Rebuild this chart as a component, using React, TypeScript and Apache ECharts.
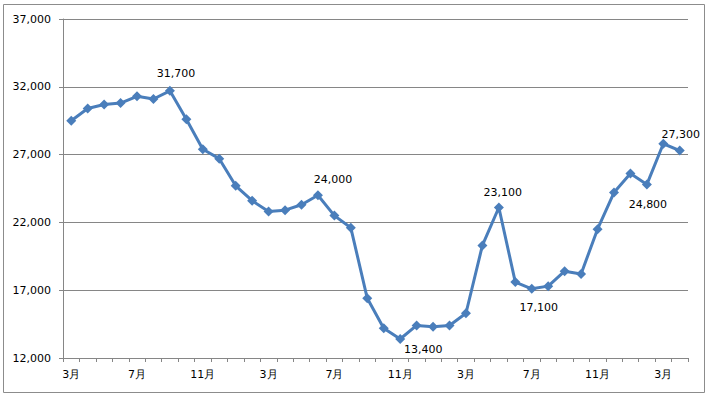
import React, { useEffect, useRef } from "react";
import * as echarts from "echarts";

const months = [
  "3月","4月","5月","6月","7月","8月","9月","10月","11月","12月","1月","2月",
  "3月","4月","5月","6月","7月","8月","9月","10月","11月","12月","1月","2月",
  "3月","4月","5月","6月","7月","8月","9月","10月","11月","12月","1月","2月",
  "3月","4月",
];
const values = [
  29500, 30400, 30700, 30800, 31300, 31100, 31700, 29600, 27400, 26700, 24700, 23600,
  22800, 22900, 23300, 24000, 22500, 21600, 16400, 14200, 13400, 14400, 14300, 14400,
  15300, 20300, 23100, 17600, 17100, 17300, 18400, 18200, 21500, 24200, 25600, 24800,
  27800, 27300,
];
// labelled points
const labelAbove = [6, 15, 26, 37];
const labelBelow = [20, 28, 35];

export default function App() {
  const ref = useRef<HTMLDivElement>(null);
  useEffect(() => {
    if (!ref.current) return;
    const chart = echarts.init(ref.current, undefined, { renderer: "svg" });
    const font = "'DejaVu Sans', Verdana, sans-serif";
    const offsets: Record<number, number[]> = {
      6: [6, 1], 15: [15, 3], 26: [4, 4], 37: [1, 2],
      20: [23, -6], 28: [7, 2], 35: [1, 4],
    };
    const data = values.map((v, i) => {
      if (labelAbove.includes(i)) {
        return { value: v, label: { show: true, position: "top", distance: 8, offset: offsets[i] } };
      }
      if (labelBelow.includes(i)) {
        return { value: v, label: { show: true, position: "bottom", distance: 6, offset: offsets[i] } };
      }
      return v;
    });
    chart.setOption({
      animation: false,
      backgroundColor: "#ffffff",
      graphic: [
        {
          type: "rect",
          shape: { x: 3.5, y: 4.5, width: 701, height: 388 },
          style: { fill: "none", stroke: "#8c8c8c", lineWidth: 1 },
          silent: true,
        },
      ],
      grid: { left: 63, right: 21, top: 19, bottom: 39 },
      xAxis: {
        type: "category",
        data: months,
        boundaryGap: true,
        axisLine: { lineStyle: { color: "#868686", width: 1 } },
        axisTick: { show: true, interval: 0, length: 4, lineStyle: { color: "#868686" } },
        axisLabel: {
          interval: 3,
          color: "#000",
          fontSize: 11,
          fontFamily: font,
          margin: 11,
        },
        splitLine: { show: false },
      },
      yAxis: {
        type: "value",
        min: 12000,
        max: 37000,
        interval: 5000,
        axisLine: { show: true, lineStyle: { color: "#868686", width: 1 } },
        axisTick: { show: true, length: 4, lineStyle: { color: "#868686" } },
        axisLabel: {
          color: "#000",
          fontSize: 11,
          fontFamily: font,
          margin: 12,
          formatter: (v: number) => v.toLocaleString("en-US"),
        },
        splitLine: { show: true, lineStyle: { color: "#868686", width: 1 } },
      },
      series: [
        {
          type: "line",
          data,
          symbol: "diamond",
          symbolSize: 10,
          lineStyle: { color: "#4a7ebb", width: 3 },
          itemStyle: { color: "#4a7ebb" },
          label: {
            show: false,
            color: "#000",
            fontSize: 11,
            fontFamily: font,
            formatter: (p: any) => Number(p.value).toLocaleString("en-US"),
          },
        },
      ],
    });
    return () => chart.dispose();
  }, []);
  return <div ref={ref} style={{ width: 709, height: 397, position: "absolute", left: 0, top: 0 }} />;
}
